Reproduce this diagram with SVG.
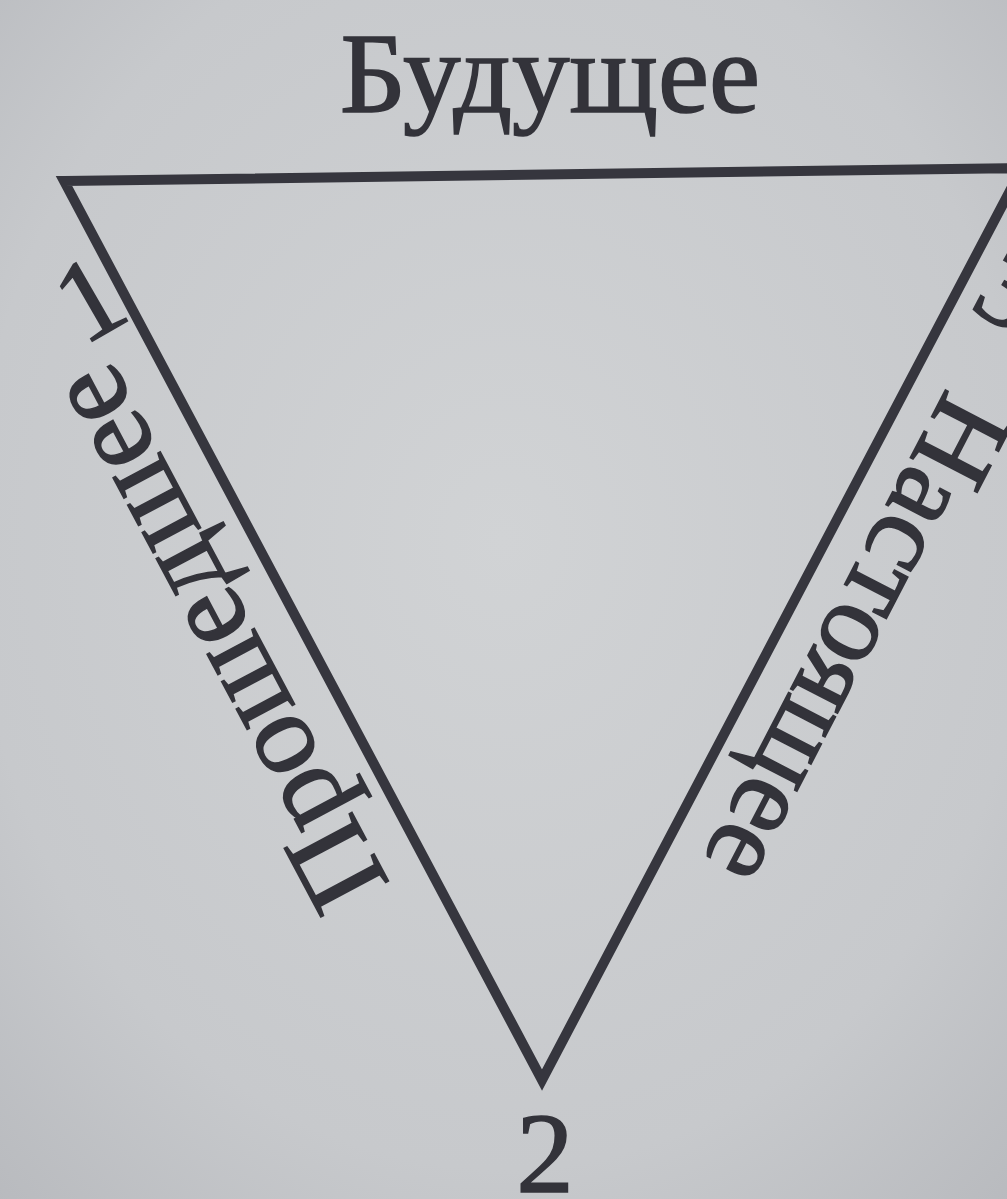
<svg xmlns="http://www.w3.org/2000/svg" width="1007" height="1199" viewBox="0 0 1007 1199">
  <defs>
    <radialGradient id="bg" cx="50%" cy="45%" r="75%">
      <stop offset="0" stop-color="#d1d3d5"/>
      <stop offset="0.7" stop-color="#c7c9cc"/>
      <stop offset="1" stop-color="#b8babe"/>
    </radialGradient>
    <style>
      .lbl { font-family: "Liberation Serif", "DejaVu Serif", serif; font-size: 115px; fill: #33333a; stroke: #33333a; stroke-width: 1.6px; }
      .edge { fill: none; stroke: #36363e; stroke-width: 10; stroke-linejoin: miter; }
    </style>
  </defs>
  <rect x="0" y="0" width="1007" height="1199" fill="url(#bg)"/>

  <g id="connectors">
    <polygon class="edge" points="64,181 1022,168 542,1080"/>
  </g>

  <g id="future">
    <text class="lbl" x="550" y="112" text-anchor="middle">Будущее</text>
  </g>
  <g id="past">
    <text class="lbl" style="font-size:117px" transform="translate(390,884) rotate(-118)" x="0" y="0">Прошедшее</text>
  </g>
  <g id="present">
    <text class="lbl" transform="translate(947,387) rotate(117.4)" x="0" y="0">Настоящее</text>
  </g>
  <g id="vertex1">
    <text class="lbl" transform="translate(89,298) rotate(-30)" x="0" y="39" text-anchor="middle">1</text>
  </g>
  <g id="vertex2">
    <text class="lbl" x="545" y="1192" text-anchor="middle">2</text>
  </g>
  <g id="vertex3">
    <text class="lbl" transform="translate(1012,288) rotate(30)" x="0" y="39" text-anchor="middle">3</text>
  </g>
</svg>
